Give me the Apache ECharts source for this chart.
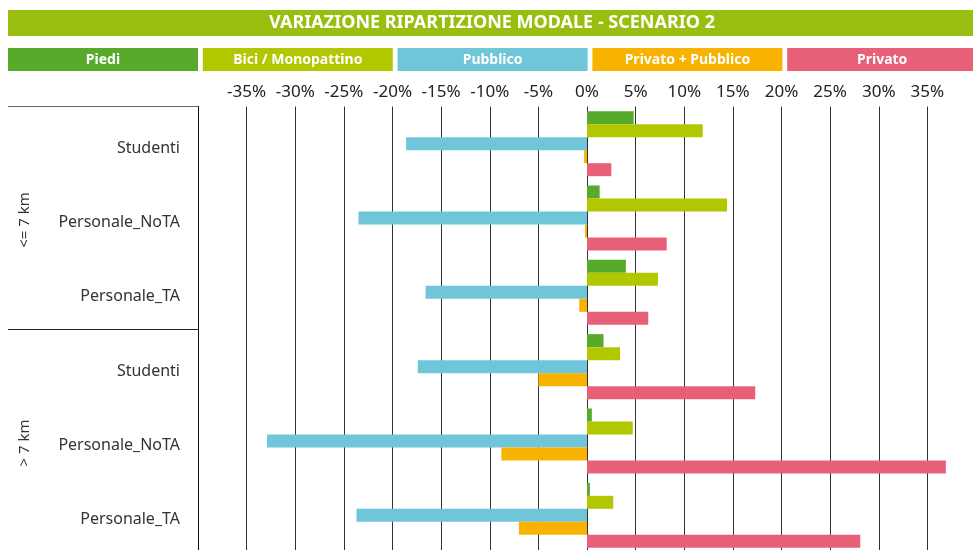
<!DOCTYPE html>
<html lang="it">
<head>
    <meta charset="UTF-8">
    <title>Variazione ripartizione modale - Scenario 2</title>
    <style>
        html, body { margin: 0; padding: 0; background: #fff; }
        #chart { width: 973px; height: 550px; }
    </style>
    <script src="https://cdn.jsdelivr.net/npm/echarts@6.0.0/dist/echarts.min.js"></script>
</head>
<body>
    <div id="chart"></div>

    <script type="text/javascript">
        // dati (variazione in %)
        var categories = ['Studenti', 'Personale_NoTA', 'Personale_TA', 'Studenti', 'Personale_NoTA', 'Personale_TA'];
        var groups = ['<= 7 km', '> 7 km'];
        var seriesNames = ['Piedi', 'Bici / Monopattino', 'Pubblico', 'Privato + Pubblico', 'Privato'];
        var colors = ['#58ab2a', '#b1c800', '#6ec6d8', '#f8b300', '#e86078'];

        var piedi = [4.8, 1.3, 4.0, 1.7, 0.5, 0.3];
        var bici = [11.9, 14.4, 7.3, 3.4, 4.7, 2.7];
        var pubblico = [-18.6, -23.5, -16.6, -17.4, -32.9, -23.7];
        var privatoPubblico = [-0.3, -0.2, -0.8, -5.0, -8.8, -7.0];
        var privato = [2.5, 8.2, 6.3, 17.3, 36.9, 28.1];

        var values = [piedi, bici, pubblico, privatoPubblico, privato];

        var FONT = '"Noto Sans", sans-serif';
        var gridLeft = 198, gridTop = 106.5, gridHeight = 446;
        var band = gridHeight / categories.length;

        var chart = echarts.init(document.getElementById('chart'), null, { renderer: 'canvas' });

        // barra del titolo e "legenda" a riquadri colorati
        var graphics = [{
            type: 'rect',
            shape: { x: 8, y: 10, width: 970, height: 26 },
            style: { fill: '#98bf0f' },
            silent: true
        }, {
            type: 'text',
            x: 492, y: 23,
            style: {
                text: 'VARIAZIONE RIPARTIZIONE MODALE - SCENARIO 2',
                fill: '#fff', font: 'bold 18px ' + FONT,
                align: 'center', verticalAlign: 'middle'
            },
            silent: true
        }];

        seriesNames.forEach(function (name, i) {
            var x = 8 + i * 194.8;
            graphics.push({
                type: 'rect',
                shape: { x: x, y: 48, width: 190, height: 23 },
                style: { fill: colors[i] },
                silent: true
            });
            graphics.push({
                type: 'text',
                x: x + 95, y: 60,
                style: {
                    text: name, fill: '#fff', font: 'bold 14px ' + FONT,
                    align: 'center', verticalAlign: 'middle'
                },
                silent: true
            });
        });

        // linee e etichette dei gruppi sull'asse delle categorie
        var perGroup = categories.length / groups.length;
        groups.forEach(function (g, i) {
            var y0 = gridTop + i * perGroup * band;
            graphics.push({
                type: 'line',
                shape: { x1: 8, y1: Math.round(y0) - 0.5, x2: gridLeft, y2: Math.round(y0) - 0.5 },
                style: { stroke: i === 0 ? '#666' : '#222', lineWidth: 1 },
                silent: true
            });
            graphics.push({
                type: 'text',
                x: 25, y: y0 + perGroup * band / 2 + 2,
                rotation: Math.PI / 2,
                style: {
                    text: g, fill: '#333', font: '15px ' + FONT,
                    align: 'center', verticalAlign: 'middle'
                },
                silent: true
            });
        });

        var option = {
            animation: false,
            textStyle: { fontFamily: FONT },
            grid: {
                left: gridLeft, top: gridTop, width: 778, height: gridHeight,
                containLabel: false, outerBoundsMode: 'none'
            },
            xAxis: {
                type: 'value',
                position: 'top',
                min: -40,
                max: 40,
                interval: 5,
                axisLine: { show: false },
                axisTick: { show: false },
                axisLabel: {
                    color: '#222', fontSize: 17, margin: 6,
                    formatter: function (v) {
                        return Math.abs(v) === 40 ? '' : v + '%';
                    }
                },
                splitLine: { show: true, lineStyle: { color: '#333', width: 1 } }
            },
            yAxis: {
                type: 'category',
                inverse: true,
                data: categories,
                axisLine: { show: true, onZero: false, lineStyle: { color: '#111', width: 1 } },
                axisTick: { show: false },
                axisLabel: {
                    color: '#333', fontSize: 16, margin: 18,
                    formatter: function (v) { return '{c|' + v + '}'; },
                    rich: { c: { color: '#333', fontSize: 16, padding: [9, 0, 0, 0] } }
                }
            },
            series: seriesNames.map(function (name, i) {
                return {
                    name: name,
                    type: 'bar',
                    data: values[i],
                    barGap: '0%',
                    barCategoryGap: '12.5%',
                    itemStyle: { color: colors[i] }
                };
            }),
            graphic: graphics
        };

        chart.setOption(option);
    </script>
</body>
</html>
